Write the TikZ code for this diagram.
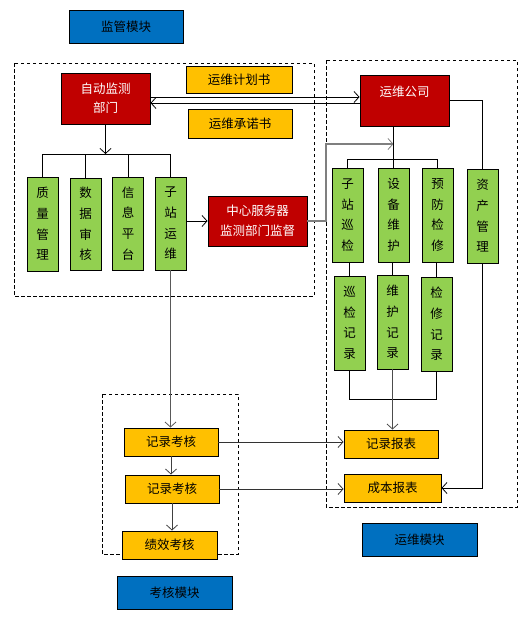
\documentclass[tikz,border=0pt]{standalone}
\usepackage{fontspec}
\newfontfamily\cjk{Noto Sans CJK SC}
\usetikzlibrary{arrows.meta}
\definecolor{mblue}{HTML}{0070C0}
\definecolor{mred}{HTML}{C00000}
\definecolor{myellow}{HTML}{FFC000}
\definecolor{mgreen}{HTML}{92D050}
\definecolor{lgray}{HTML}{7F7F7F}
\tikzset{
  box/.style={draw=black, line width=0.9pt, inner sep=0pt, align=center,
    font=\cjk\fontsize{12.5pt}{19pt}\selectfont},
  bluebox/.style={box, fill=mblue, text=black},
  redbox/.style={box, fill=mred, text=white},
  yelbox/.style={box, fill=myellow, text=black},
  greenbox/.style={box, fill=mgreen, text=black, minimum width=31pt,
    font=\cjk\fontsize{12.5pt}{20.7pt}\selectfont},
  ln/.style={draw=black, line width=0.8pt},
  arr/.style={ln, -{Straight Barb[length=5pt,width=11pt,line width=0.8pt]}},
  dbox/.style={draw=black, line width=0.8pt, dash pattern=on 3.5pt off 2.5pt},
}
\begin{document}
\begin{tikzpicture}[x=1pt,y=-1pt]
\useasboundingbox (0,0) rectangle (527,619);
% dashed module frames
\draw[dbox] (14,63) rectangle (314,296);
\draw[dbox] (326,60) rectangle (517,507);
\draw[dbox] (102,394) rectangle (238,554);

% module labels
\node[bluebox, minimum width=114pt, minimum height=33pt] (jg) at (126,26.5) {监管模块};
\node[bluebox, minimum width=115pt, minimum height=33pt] (ywmk) at (419.5,539.5) {运维模块};
\node[bluebox, minimum width=115pt, minimum height=33pt] (khmk) at (174.5,592.5) {考核模块};

% supervision module
\node[redbox, minimum width=89pt, minimum height=51pt] (zd) at (105.5,98.5) {自动监测\\部门};
\node[yelbox, minimum width=106pt, minimum height=27pt] (jh) at (239,79.5) {运维计划书};
\node[yelbox, minimum width=104pt, minimum height=29pt] (cn) at (240,123.5) {运维承诺书};
\node[greenbox, minimum height=94pt] (zl) at (42.5,224) {质\\量\\管\\理};
\node[greenbox, minimum height=92pt] (sj) at (85.5,224) {数\\据\\审\\核};
\node[greenbox, minimum height=93pt] (xx) at (128,223.5) {信\\息\\平\\台};
\node[greenbox, minimum height=93pt] (zy) at (170.5,223.5) {子\\站\\运\\维};
\node[redbox, minimum width=99pt, minimum height=50pt, font=\cjk\fontsize{12.5pt}{20pt}\selectfont] (zx) at (257.5,221) {中心服务器\\监测部门监督};

% O&M module
\node[redbox, minimum width=89pt, minimum height=51pt] (gs) at (404.5,100.5) {运维公司\\\mbox{}};
\node[greenbox, minimum height=94pt] (xj) at (347.5,215) {子\\站\\巡\\检};
\node[greenbox, minimum height=94pt] (sb) at (393.5,215) {设\\备\\维\\护};
\node[greenbox, minimum height=94pt] (yf) at (437.5,215) {预\\防\\检\\修};
\node[greenbox, minimum height=94pt] (zc) at (482.5,216) {资\\产\\管\\理};
\node[greenbox, minimum height=94pt] (xjjl) at (349.5,323) {巡\\检\\记\\录};
\node[greenbox, minimum height=94pt] (whjl) at (392.5,322) {维\\护\\记\\录};
\node[greenbox, minimum height=94pt] (jxjl) at (436.5,324) {检\\修\\记\\录};
\node[yelbox, minimum width=94pt, minimum height=28pt] (bb1) at (391,444) {记录报表};
\node[yelbox, minimum width=97pt, minimum height=28pt] (bb2) at (392.5,488) {成本报表};

% assessment module
\node[yelbox, minimum width=94pt, minimum height=28pt] (kh1) at (171,442) {记录考核};
\node[yelbox, minimum width=94pt, minimum height=28pt] (kh2) at (172,489) {记录考核};
\node[yelbox, minimum width=95pt, minimum height=28pt] (jx) at (169.5,545) {绩效考核};

% helper coordinates
\coordinate (ya) at (0,97);
\coordinate (yb) at (0,103);
\coordinate (lbus) at (0,154);
\coordinate (rbus) at (0,159);
\coordinate (cbus) at (0,144);
\coordinate (cx) at (326,0);
\coordinate (dbus) at (0,399);

% supervision connectors
\draw[arr] (zd.east |- ya) -- (gs.west |- ya);
\draw[arr] (gs.west |- yb) -- (zd.east |- yb);
\draw[arr] (zd.south) -- (zd.south |- lbus);
\draw[ln] (zl.north) -- (zl.north |- lbus) -- (zy.north |- lbus) -- (zy.north);
\draw[ln] (sj.north) -- (sj.north |- lbus);
\draw[ln] (xx.north) -- (xx.north |- lbus);
\draw[arr] (zy.east |- zx.west) -- (zx.west);
\draw[arr, draw=lgray, line width=1.3pt] (zx.east) -- (zx.east -| cx) -- (cx |- cbus) -- (sb.north |- cbus);
\draw[arr, draw=black!65] (zy.south) -- (zy.south |- kh1.north);

% O&M connectors
\draw[ln] (sb.north |- gs.south) -- (sb.north);
\draw[ln] (xj.north) -- (xj.north |- rbus) -- (yf.north |- rbus) -- (yf.north);
\draw[ln] (gs.east) -| (zc.north);
\draw[ln] (xjjl.north |- xj.south) -- (xjjl.north);
\draw[ln] (whjl.north |- sb.south) -- (whjl.north);
\draw[ln] (jxjl.north |- yf.south) -- (jxjl.north);
\draw[ln] (xjjl.south) -- (xjjl.south |- dbus) -- (jxjl.south |- dbus) -- (jxjl.south);
\draw[arr, draw=black!70] (whjl.south) -- (whjl.south |- bb1.north);
\draw[arr] (zc.south) |- (bb2.east);

% assessment connectors
\draw[arr, draw=black!75] (kh1.south) -- (kh1.south |- kh2.north);
\draw[arr, draw=black!75] (kh2.south) -- (kh2.south |- jx.north);
\draw[arr, draw=black!80] (kh1.east) -- (kh1.east -| bb1.west);
\draw[arr, draw=black!80] (kh2.east) -- (kh2.east -| bb2.west);
\end{tikzpicture}
\end{document}
